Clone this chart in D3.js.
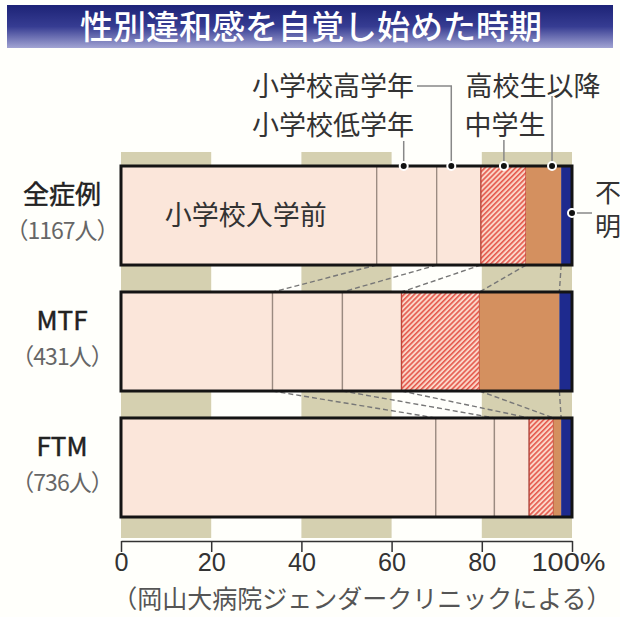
<!DOCTYPE html>
<html>
<head>
<meta charset="utf-8">
<script src="https://cdn.jsdelivr.net/npm/d3@7"></script>
<style>
  body { margin: 0; background: #fffffb; }
  svg { display: block; font-family: "Noto Sans CJK JP", "Noto Sans", sans-serif; }
</style>
</head>
<body>
<svg id="chart" width="620" height="617"></svg>
<script>
// values (percent)
const categories = ["全症例", "MTF", "FTM"];
const counts = ["（1167人）", "（431人）", "（736人）"];
const stages = ["小学校入学前", "小学校低学年", "小学校高学年", "中学生", "高校生以降", "不明"];
const allCases = [56.7, 13.3, 9.8, 10.0, 7.8, 2.4];
const mtf = [33.6, 15.5, 13.1, 17.3, 17.7, 2.8];
const ftm = [69.8, 13.0, 7.7, 5.4, 1.7, 2.4];
const tickValues = [0, 20, 40, 60, 80, 100];
const title = "性別違和感を自覚し始めた時期";
const source = "（岡山大病院ジェンダークリニックによる）";

const width = 620, height = 617;
const svg = d3.select("#chart");

const rows = categories.map((c, i) => {
  const o = { cat: c };
  [allCases, mtf, ftm][i].forEach((v, j) => o[stages[j]] = v);
  return o;
});
const series = d3.stack().keys(stages)(rows);

const x = d3.scaleLinear().domain([0, 100]).range([121, 572]);
const y = d3.scaleBand().domain(categories).range([166, 517]).paddingInner(0.214);

const fills = ["#fbe6da", "#fbe6da", "#fbe6da", "url(#hatch)", "#d4905f", "#1e2a8e"];

// defs
const defs = svg.append("defs");
const grad = defs.append("linearGradient").attr("id", "titleGrad")
  .attr("x1", 0).attr("y1", 0).attr("x2", 0).attr("y2", 1);
grad.append("stop").attr("offset", "0%").attr("stop-color", "#1d2376");
grad.append("stop").attr("offset", "50%").attr("stop-color", "#363c92");
grad.append("stop").attr("offset", "100%").attr("stop-color", "#a2a4d3");

const pat = defs.append("pattern").attr("id", "hatch")
  .attr("patternUnits", "userSpaceOnUse")
  .attr("width", 3.6).attr("height", 3.6)
  .attr("patternTransform", "rotate(45)");
pat.append("rect").attr("width", 3.6).attr("height", 3.6).attr("fill", "#fbd6c8");
pat.append("rect").attr("width", 1.6).attr("height", 3.6).attr("fill", "#e5584c");

// title bar
svg.append("rect").attr("x", 7).attr("y", 5).attr("width", 606).attr("height", 43)
  .attr("fill", "url(#titleGrad)");
svg.append("text").attr("x", 311).attr("y", 27).attr("dy", "0.36em")
  .attr("text-anchor", "middle").attr("fill", "#fff")
  .attr("font-size", 33).attr("font-weight", 500)
  .text(title);

// background bands 0-20, 40-60, 80-100
svg.append("g").selectAll("rect")
  .data([0, 40, 80])
  .join("rect")
  .attr("x", d => x(d))
  .attr("width", d => x(d + 20) - x(d))
  .attr("y", 152)
  .attr("height", 386)
  .attr("fill", "#d5d0b0");

// dashed connectors between bars
const links = [];
for (let i = 0; i < categories.length - 1; i++) {
  for (let j = 0; j < stages.length - 1; j++) {
    links.push({
      x1: x(series[j][i][1]), y1: y(categories[i]) + y.bandwidth(),
      x2: x(series[j][i + 1][1]), y2: y(categories[i + 1])
    });
  }
}
svg.append("g").selectAll("line")
  .data(links)
  .join("line")
  .attr("x1", d => d.x1).attr("y1", d => d.y1)
  .attr("x2", d => d.x2).attr("y2", d => d.y2)
  .attr("stroke", "#777")
  .attr("stroke-width", 1.4)
  .attr("stroke-dasharray", "5,3");

// bar segments
svg.append("g").selectAll("g")
  .data(series)
  .join("g")
  .attr("fill", (d, i) => fills[i])
  .selectAll("rect")
  .data(d => d.map(v => Object.assign(v, { key: d.key, idx: d.index })))
  .join("rect")
  .attr("x", d => x(d[0]))
  .attr("width", d => x(d[1]) - x(d[0]))
  .attr("y", d => y(d.data.cat))
  .attr("height", y.bandwidth())
  .attr("stroke", d => d.idx < 3 ? "#9a8a80" : (d.idx == 3 ? "#c0453a" : "none"))
  .attr("stroke-width", 1.3);

// bar outlines
svg.append("g").selectAll("rect")
  .data(categories)
  .join("rect")
  .attr("x", x(0)).attr("width", x(100) - x(0))
  .attr("y", d => y(d)).attr("height", y.bandwidth())
  .attr("fill", "none").attr("stroke", "#141414").attr("stroke-width", 3);

// label inside first bar
svg.append("text")
  .attr("x", (x(0) + x(allCases[0])) / 2 - 3)
  .attr("y", y(categories[0]) + y.bandwidth() / 2)
  .attr("dy", "0.36em").attr("text-anchor", "middle")
  .attr("font-size", 27).attr("fill", "#333")
  .text(stages[0]);

// row labels
const rowLab = svg.append("g").selectAll("g")
  .data(categories)
  .join("g")
  .attr("transform", d => `translate(62,${y(d) + y.bandwidth() / 2})`);
rowLab.append("text")
  .attr("y", -21).attr("dy", "0.36em").attr("text-anchor", "middle")
  .attr("font-size", 26).attr("fill", "#222")
  .attr("stroke", "#222").attr("stroke-width", 0.5)
  .text(d => d);
rowLab.append("text")
  .attr("y", 15).attr("dy", "0.36em").attr("text-anchor", "middle")
  .attr("font-size", 23).attr("fill", "#666")
  .attr("letter-spacing", -1)
  .text((d, i) => counts[i]);

// legend annotations pointing at the first bar
const top0 = y(categories[0]);
const seg0 = series.map(s => s[0]);
const notes = [
  { i: 1, f: 0.45, tx: 333, ty: 125, path: p => [[p, 141], [p, top0]] },
  { i: 2, f: 0.33, tx: 333, ty: 86, path: p => [[417, 86], [p, 86], [p, top0]] },
  { i: 3, f: 0.51, tx: 505, ty: 125, path: p => [[p, 140], [p, top0]] },
  { i: 4, f: 0.74, tx: 533, ty: 86, path: p => [[p, 96], [p, top0]] }
];
const line = d3.line();
notes.forEach(n => {
  const px = x(seg0[n.i][0] + n.f * (seg0[n.i][1] - seg0[n.i][0]));
  svg.append("path").attr("d", line(n.path(px)))
    .attr("fill", "none").attr("stroke", "#888").attr("stroke-width", 1.5);
  svg.append("circle").attr("cx", px).attr("cy", top0).attr("r", 4)
    .attr("fill", "#111").attr("stroke", "#fff").attr("stroke-width", 2);
  svg.append("text").attr("x", n.tx).attr("y", n.ty).attr("dy", "0.36em")
    .attr("text-anchor", "middle").attr("font-size", 27).attr("fill", "#333")
    .text(stages[n.i]);
});

// 不明
svg.append("line").attr("x1", x(100)).attr("x2", 592).attr("y1", 213).attr("y2", 213)
  .attr("stroke", "#888").attr("stroke-width", 1.5);
svg.append("circle").attr("cx", x(100)).attr("cy", 213).attr("r", 4)
  .attr("fill", "#111").attr("stroke", "#fff").attr("stroke-width", 2);
svg.append("g").selectAll("text")
  .data(stages[5].split(""))
  .join("text")
  .attr("x", 595).attr("y", (d, i) => 193 + i * 34).attr("dy", "0.36em")
  .attr("font-size", 26).attr("fill", "#333")
  .text(d => d);

// axis
const axis = svg.append("g")
  .attr("transform", "translate(0,541)")
  .call(d3.axisBottom(x).tickValues(tickValues).tickSize(11).tickSizeOuter(0)
    .tickFormat(d => d === 100 ? "100%" : d));
axis.select(".domain").attr("stroke", "#333").attr("stroke-width", 1.5);
axis.selectAll(".tick line").attr("stroke", "#333").attr("stroke-width", 1.5);
axis.selectAll(".tick text")
  .attr("y", 12)
  .attr("font-family", "'Liberation Sans', sans-serif")
  .attr("font-size", 26).attr("fill", "#333")
  .attr("lengthAdjust", "spacingAndGlyphs")
  .attr("textLength", d => d === 100 ? 74 : String(d).length * 14)
  .attr("text-anchor", d => d === 100 ? "end" : "middle")
  .attr("dx", d => d === 100 ? 33 : 0);

// source
svg.append("text").attr("x", 362).attr("y", 599).attr("dy", "0.34em")
  .attr("text-anchor", "middle").attr("font-size", 25).attr("fill", "#555")
  .text(source);
</script>
</body>
</html>
